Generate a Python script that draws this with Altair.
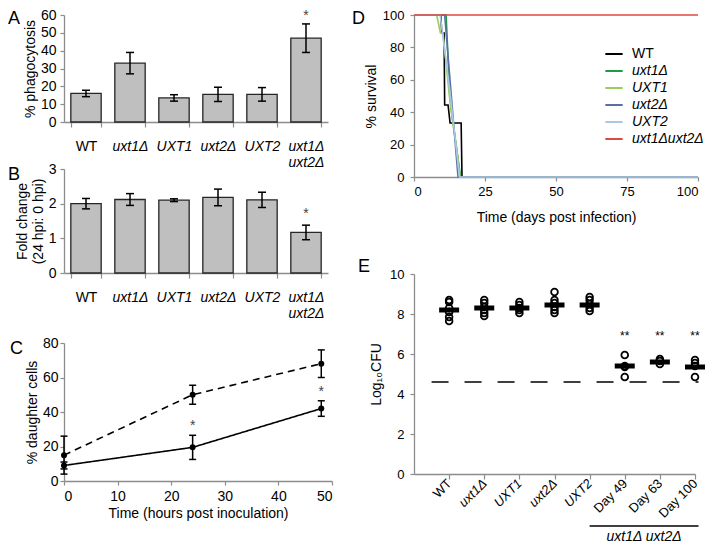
import altair as alt
import pandas as pd

FONT = "Liberation Sans"
GRAY = "#8c8c8c"

# ---------------- Panel A / B data ----------------
strains = ["WT", "uxt1Δ", "UXT1", "uxt2Δ", "UXT2", "uxt1Δ uxt2Δ"]
phago_mean = [16.0, 33.0, 13.5, 15.5, 15.5, 47.0]
phago_err = [1.8, 6.0, 1.8, 4.0, 3.8, 8.0]
phago_sig = ["", "", "", "", "", "*"]

fold_mean = [2.0, 2.12, 2.1, 2.18, 2.11, 1.17]
fold_err = [0.15, 0.17, 0.04, 0.24, 0.22, 0.21]
fold_sig = ["", "", "", "", "", "*"]

# ---------------- Panel C data ----------------
hours = [0, 24, 48]
dashed_mean = [15.0, 50.0, 68.0]
dashed_err = [11.0, 5.5, 8.0]
solid_mean = [9.0, 19.5, 42.0]
solid_err = [2.0, 7.0, 4.5]
solid_sig = ["", "*", "*"]

# ---------------- Panel D data ----------------
surv_strains = ["WT", "uxt1Δ", "UXT1", "uxt2Δ", "UXT2", "uxt1Δuxt2Δ"]
surv_colors = ["#000000", "#1f9a48", "#9bcb5a", "#5a6ea8", "#a9c9e6", "#e0493f"]
wt_day = [0, 9.4, 9.8, 10.6, 10.8, 12.0, 12.7, 16.6, 16.9, 100]
wt_pct = [100, 100, 88.9, 88.9, 44.4, 44.4, 33.3, 33.3, 0, 0]
uxt1_day = [0, 11.3, 12.6, 13.4, 16.4, 100]
uxt1_pct = [100, 100, 50, 38, 0, 0]
UXT1_day = [0, 8.0, 9.3, 10.2, 12.8, 15.5, 16.2, 100]
UXT1_pct = [100, 100, 88.9, 88.9, 44.4, 11.1, 0, 0]
uxt2_day = [0, 10.8, 15.5, 100]
uxt2_pct = [100, 100, 0, 0]
UXT2_day = [0, 9.2, 12.5, 16.0, 100]
UXT2_pct = [100, 100, 55, 0, 0]
dbl_day = [0, 100]
dbl_pct = [100, 100]

# ---------------- Panel E data ----------------
cfu_groups = ["WT", "uxt1Δ", "UXT1", "uxt2Δ", "UXT2", "Day 49", "Day 63", "Day 100"]
cfu_values = [
    [8.7, 8.6, 8.3, 8.1, 7.85, 7.65],
    [8.7, 8.55, 8.35, 8.2, 8.05, 7.9],
    [8.6, 8.45, 8.3, 8.2, 8.05],
    [9.1, 8.7, 8.55, 8.35, 8.2, 8.05],
    [8.85, 8.7, 8.5, 8.3, 8.15],
    [5.95, 5.4, 5.35, 4.85],
    [5.75, 5.65, 5.5],
    [5.7, 5.55, 5.4, 4.85],
]
cfu_means = [8.2, 8.3, 8.3, 8.45, 8.45, 5.4, 5.6, 5.35]
cfu_sig = ["", "", "", "", "", "**", "**", "**"]
detection_limit = 4.6

LW = 264  # left column plot width


def letter_layer(letter, x, y):
    return alt.Chart(pd.DataFrame({"t": [letter]})).mark_text(
        x=x, y=y, align="left", baseline="top", fontSize=18, font=FONT, color="black"
    ).encode(text="t:N")


def bar_panel(mean, err, sig, ymax, yvals, ytitle, letter, h, sig_dy, title_pad, ly):
    df = pd.DataFrame({
        "strain": strains,
        "mean": mean,
        "lo": [m - e for m, e in zip(mean, err)],
        "hi": [m + e for m, e in zip(mean, err)],
        "sig": sig,
    })
    xenc = alt.X(
        "strain:N", sort=strains,
        scale=alt.Scale(paddingInner=0.31, paddingOuter=0.155),
        axis=alt.Axis(
            title=None, labelAngle=0, tickBand="extent", tickSize=5, labelPadding=12,
            labelOverlap=False, labelBound=False, labelLineHeight=16,
            labelExpr="datum.value == 'uxt1Δ uxt2Δ' ? ['uxt1Δ', 'uxt2Δ'] : datum.value",
            labelFontStyle={"condition": {"test": "datum.value == 'WT'", "value": "normal"}, "value": "italic"},
        ),
    )
    yscale = alt.Scale(domain=[0, ymax], nice=False)
    yaxis = alt.Axis(title=ytitle, values=yvals, tickSize=4, labelPadding=4, titlePadding=title_pad,
                     labelOverlap=False)
    base = alt.Chart(df).encode(x=xenc)
    bars = base.mark_bar(color="#bfbfbf", stroke="#262626", strokeWidth=1.3).encode(
        y=alt.Y("mean:Q", scale=yscale, axis=yaxis))
    rules = base.mark_rule(color="black", strokeWidth=1.5).encode(
        y=alt.Y("lo:Q", scale=yscale, axis=yaxis), y2="hi:Q")
    cap_lo = base.mark_tick(color="black", size=8, thickness=1.5, opacity=1).encode(
        y=alt.Y("lo:Q", scale=yscale, axis=yaxis))
    cap_hi = base.mark_tick(color="black", size=8, thickness=1.5, opacity=1).encode(
        y=alt.Y("hi:Q", scale=yscale, axis=yaxis))
    stars = base.mark_text(baseline="bottom", dy=sig_dy, fontSize=14, color="#444444", font=FONT).encode(
        y=alt.Y("hi:Q", scale=yscale, axis=yaxis), text="sig:N")
    return alt.layer(bars, rules, cap_lo, cap_hi, stars, letter_layer(letter, -56, ly)).properties(
        width=LW, height=h)


panel_a = bar_panel(phago_mean, phago_err, phago_sig, 60, [0, 10, 20, 30, 40, 50, 60],
                    "% phagocytosis", "A", 107, -1, 3, -5)
panel_b = bar_panel(fold_mean, fold_err, fold_sig, 3, [0, 1, 2, 3],
                    ["Fold change", "(24 hpi: 0 hpi)"], "B", 104, -4, 3, -3)

# ---------------- Panel C ----------------
c_rows = []
for style, means, errs, sigs in [("dashed", dashed_mean, dashed_err, ["", "", ""]),
                                 ("solid", solid_mean, solid_err, solid_sig)]:
    for t, m, e, s in zip(hours, means, errs, sigs):
        c_rows.append({"series": style, "t": t, "m": m, "lo": m - e, "hi": m + e, "sig": s})
cdf = pd.DataFrame(c_rows)
cx = alt.X("t:Q", scale=alt.Scale(domain=[0, 50], nice=False),
           axis=alt.Axis(values=[0, 10, 20, 30, 40, 50], title="Time (hours post inoculation)",
                         tickSize=4, labelPadding=4, titlePadding=3, labelOverlap=False))
cy_scale = alt.Scale(domain=[0, 80], nice=False)
cy_axis = alt.Axis(values=[0, 20, 40, 60, 80], title="% daughter cells", tickSize=4, labelPadding=2,
                   titlePadding=3, labelOverlap=False)
cbase = alt.Chart(cdf).encode(x=cx)
c_lines = cbase.mark_line(color="black", strokeWidth=1.6).encode(
    y=alt.Y("m:Q", scale=cy_scale, axis=cy_axis),
    detail="series:N",
    strokeDash=alt.StrokeDash("series:N", scale=alt.Scale(domain=["dashed", "solid"], range=[[7, 5], [1, 0]]),
                              legend=None),
)
c_pts = cbase.mark_circle(color="black", size=36, opacity=1).encode(
    y=alt.Y("m:Q", scale=cy_scale, axis=cy_axis))
c_rules = cbase.mark_rule(color="black", strokeWidth=1.5).encode(
    y=alt.Y("lo:Q", scale=cy_scale, axis=cy_axis), y2="hi:Q")
c_cap_lo = cbase.mark_tick(color="black", size=7, thickness=1.5, orient="horizontal", opacity=1).encode(
    y=alt.Y("lo:Q", scale=cy_scale, axis=cy_axis))
c_cap_hi = cbase.mark_tick(color="black", size=7, thickness=1.5, orient="horizontal", opacity=1).encode(
    y=alt.Y("hi:Q", scale=cy_scale, axis=cy_axis))
c_stars = cbase.mark_text(baseline="bottom", dy=-2, fontSize=14, color="#444444", font=FONT).encode(
    y=alt.Y("hi:Q", scale=cy_scale, axis=cy_axis), text="sig:N")
panel_c = alt.layer(c_lines, c_rules, c_cap_lo, c_cap_hi, c_pts, c_stars,
                    letter_layer("C", -54, -3)).properties(width=LW + 4, height=138)

# ---------------- Panel D ----------------
d_rows = []
for name, days, pcts in zip(surv_strains,
                            [wt_day, uxt1_day, UXT1_day, uxt2_day, UXT2_day, dbl_day],
                            [wt_pct, uxt1_pct, UXT1_pct, uxt2_pct, UXT2_pct, dbl_pct]):
    for i, (d, p) in enumerate(zip(days, pcts)):
        d_rows.append({"strain": name, "day": d, "pct": p, "ord": i})
ddf = pd.DataFrame(d_rows)
d_lines = alt.Chart(ddf).mark_line(strokeWidth=1.6).encode(
    x=alt.X("day:Q", scale=alt.Scale(domain=[0, 100], nice=False),
            axis=alt.Axis(values=[0, 25, 50, 75, 100], title="Time (days post infection)",
                          labelFontSize=13, tickSize=4, labelPadding=4, titlePadding=12)),
    y=alt.Y("pct:Q", scale=alt.Scale(domain=[0, 100], nice=False),
            axis=alt.Axis(values=[0, 20, 40, 60, 80, 100], title="% survival", labelFontSize=13,
                          tickSize=4, labelPadding=6, titlePadding=4)),
    color=alt.Color("strain:N", sort=surv_strains,
                    scale=alt.Scale(domain=surv_strains, range=surv_colors),
                    legend=alt.Legend(orient="none", legendX=540, legendY=29, title=None,
                                      symbolType="stroke", symbolStrokeWidth=2, symbolSize=300,
                                      labelFontSize=14, labelFont=FONT, rowPadding=0, labelOffset=8,
                                      labelFontStyle=alt.ExprRef("datum.label == 'WT' ? 'normal' : 'italic'"))),
    order="ord:Q",
)
panel_d = alt.layer(d_lines, letter_layer("D", -62, -5)).properties(width=284, height=162)

# ---------------- Panel E ----------------
e_rows = []
for i, vals in enumerate(cfu_values):
    for v in vals:
        e_rows.append({"pos": i + 1, "v": v})
edf = pd.DataFrame(e_rows)
emdf = pd.DataFrame({"pos": list(range(1, 9)), "mean": cfu_means, "sig": cfu_sig})
label_arr = "[''," + ",".join("'" + g + "'" for g in cfu_groups) + "]"
ex_scale = alt.Scale(domain=[0, 8], nice=False)
ey_scale = alt.Scale(domain=[0, 10], nice=False)
ex_axis = alt.Axis(values=list(range(1, 9)), title=None, labelExpr=label_arr + "[datum.value]",
                   labelAngle=315, labelAlign="right", labelBaseline="middle", tickSize=5,
                   labelPadding=2, labelFontSize=13, labelOverlap=False, labelBound=False,
                   labelFontStyle={"condition": {"test": "datum.value >= 2 && datum.value <= 5",
                                                 "value": "italic"}, "value": "normal"})
ey_axis = alt.Axis(values=[0, 2, 4, 6, 8, 10], title="Log₁₀CFU", labelFontSize=13, tickSize=4,
                   labelPadding=6, titlePadding=6, labelOverlap=False)
e_pts = alt.Chart(edf).mark_point(shape="circle", filled=False, size=45, strokeWidth=1.8,
                                   color="black", opacity=1).encode(
    x=alt.X("pos:Q", scale=ex_scale, axis=ex_axis),
    y=alt.Y("v:Q", scale=ey_scale, axis=ey_axis),
)
e_means = alt.Chart(emdf).mark_tick(color="black", size=20, thickness=5, orient="horizontal",
                                    opacity=1).encode(
    x=alt.X("pos:Q", scale=ex_scale, axis=ex_axis), y=alt.Y("mean:Q", scale=ey_scale, axis=ey_axis))
e_sig = alt.Chart(emdf).mark_text(fontSize=12, font=FONT, color="black").encode(
    x=alt.X("pos:Q", scale=ex_scale, axis=ex_axis),
    y=alt.YDatum(6.9, scale=ey_scale, axis=ey_axis), text="sig:N")
one = pd.DataFrame({"k": [0]})
e_limit = alt.Chart(one).mark_rule(color="black", strokeWidth=1.5, strokeDash=[17, 16]).encode(
    x=alt.XDatum(0.5, scale=ex_scale, axis=ex_axis), x2=alt.X2Datum(8.1),
    y=alt.YDatum(detection_limit, scale=ey_scale, axis=ey_axis))
E_H = 200
e_bracket = alt.Chart(one).mark_rule(color="black", strokeWidth=1.3).encode(
    x=alt.XDatum(5, scale=ex_scale, axis=ex_axis), x2=alt.X2Datum(8.1), y=alt.value(E_H + 52))
e_group = alt.Chart(one).mark_text(fontSize=14, font=FONT, fontStyle="italic", baseline="top",
                                   color="black").encode(
    x=alt.XDatum(6.55, scale=ex_scale, axis=ex_axis), y=alt.value(E_H + 56),
    text=alt.value("uxt1Δ uxt2Δ"))
panel_e = alt.layer(e_limit, e_pts, e_means, e_sig, e_bracket, e_group,
                    letter_layer("E", -56, -16)).properties(width=281, height=E_H)

left = alt.vconcat(alt.vconcat(panel_a, panel_b, spacing=-10), panel_c, spacing=13)
right = alt.vconcat(panel_d, panel_e, spacing=34)

chart = alt.hconcat(left, right, spacing=19).properties(
    padding=0
).configure_axis(
    labelFont=FONT, titleFont=FONT, labelFontSize=14, titleFontSize=14,
    labelColor="black", titleColor="black", titleFontWeight="normal",
    domainColor=GRAY, tickColor=GRAY, domainWidth=1.3, tickWidth=1.2, grid=False,
).configure_view(strokeWidth=0).configure_legend(labelColor="black")

chart.save("out.html", embed_options={"renderer": "svg", "actions": False})
